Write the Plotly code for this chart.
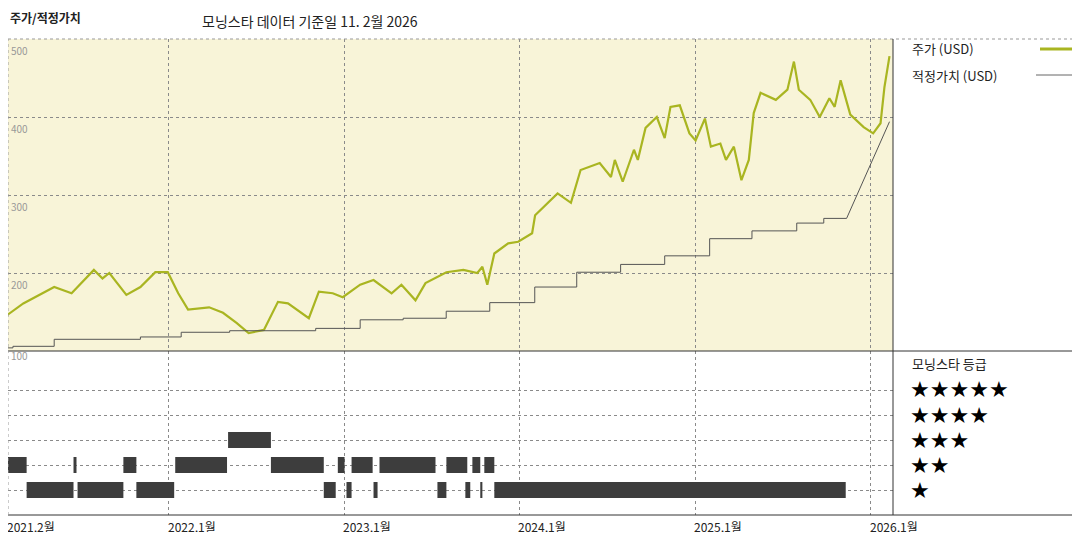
import pandas as pd
import plotly.graph_objects as go

# price (USD), decimal year -> value
price_t = [2021.08, 2021.172, 2021.348, 2021.447, 2021.574, 2021.623, 2021.662, 2021.759, 2021.839,
           2021.924, 2021.995, 2022.055, 2022.111, 2022.231, 2022.310, 2022.387, 2022.456, 2022.543,
           2022.623, 2022.680, 2022.799, 2022.856, 2022.935, 2022.992, 2023.092, 2023.168, 2023.271,
           2023.327, 2023.407, 2023.464, 2023.583, 2023.680, 2023.759, 2023.788, 2023.816, 2023.856,
           2023.935, 2023.992, 2024.072, 2024.089, 2024.217, 2024.293, 2024.348, 2024.457, 2024.521,
           2024.543, 2024.588, 2024.652, 2024.674, 2024.718, 2024.782, 2024.827, 2024.860, 2024.913,
           2024.968, 2025.001, 2025.054, 2025.088, 2025.142, 2025.174, 2025.219, 2025.262, 2025.304,
           2025.332, 2025.371, 2025.458, 2025.524, 2025.561, 2025.589, 2025.654, 2025.708, 2025.763,
           2025.793, 2025.827, 2025.882, 2025.958, 2026.013, 2026.055, 2026.077, 2026.106]
price_v = [146, 161, 182, 174, 204, 193, 200, 172, 182,
           201, 201, 174, 153, 156, 149, 136, 123, 127,
           163, 161, 142, 176, 174, 169, 185, 191, 174,
           185, 165, 187, 201, 204, 200, 208, 185, 225,
           238, 240, 251, 274, 302, 290, 332, 341, 323,
           345, 317, 358, 345, 386, 400, 373, 413, 415,
           379, 370, 398, 362, 366, 345, 362, 319, 345,
           405, 431, 422, 435, 471, 435, 422, 400, 424,
           413, 447, 403, 387, 379, 392, 438, 478]

# fair value steps (start of each level)
fv_t = [2021.083, 2021.113, 2021.348, 2021.839, 2022.072, 2022.348, 2022.838, 2023.092, 2023.337,
        2023.582, 2023.830, 2024.087, 2024.326, 2024.576, 2024.827, 2025.081, 2025.322, 2025.577,
        2025.731, 2025.861]
fv_v = [104, 106, 115, 118, 124, 126, 129, 140, 142,
        151, 162, 182, 201, 211, 222, 244, 254, 264,
        270, 270]
fv_end_t = 2026.106
fv_end_v = 394

# morningstar rating periods: (start, end) decimal years
rating1 = [(2021.191, 2021.458), (2021.481, 2021.742), (2021.816, 2022.032), (2022.884, 2022.952),
           (2023.014, 2023.043), (2023.077, 2023.081), (2023.168, 2023.191), (2023.532, 2023.583),
           (2023.691, 2023.719), (2023.776, 2023.788), (2023.833, 2023.837), (2023.856, 2025.856)]
rating2 = [(2021.072, 2021.191), (2021.458, 2021.475), (2021.742, 2021.816), (2021.839, 2021.843),
           (2022.038, 2022.333), (2022.583, 2022.884), (2022.964, 2023.003), (2023.043, 2023.163),
           (2023.202, 2023.521), (2023.583, 2023.702), (2023.731, 2023.776), (2023.799, 2023.856),
           (2025.254, 2025.258), (2026.102, 2026.106)]
rating3 = [(2022.339, 2022.583)]

xticks = ["2021-02-01", "2022-01-01", "2023-01-01", "2024-01-01", "2025-01-01", "2026-01-01"]
xtick_text = ["2021,2월", "2022,1월", "2023,1월", "2024,1월", "2025,1월", "2026,1월"]
price_ticks = [200, 300, 400, 500]

FONT = "Noto Sans CJK KR"
OLIVE = "#a9b521"

# page has an 8px body margin, so the figure is shrunk and positions are
# given in window pixels
W, H, M = 1064, 524, 8


def px(x):
    return (x - M) / W


def py(y):
    return (H + M - y) / H


def ydate(v):
    y = int(v)
    return pd.Timestamp(y, 1, 1) + pd.Timedelta(days=(v - y) * 365.25)


fig = go.Figure()

fig.add_trace(go.Scatter(x=[ydate(t) for t in price_t], y=price_v, mode="lines",
                         line=dict(color=OLIVE, width=2.2), xaxis="x2", yaxis="y2",
                         showlegend=False))

# fair value as a staircase, then straight ramp at the end
fx, fy = [], []
for i, (t, v) in enumerate(zip(fv_t, fv_v)):
    if i > 0:
        fx.append(ydate(t))
        fy.append(fv_v[i - 1])
    fx.append(ydate(t))
    fy.append(v)
fx.append(ydate(fv_end_t))
fy.append(fv_end_v)
fig.add_trace(go.Scatter(x=fx, y=fy, mode="lines", line=dict(color="#555555", width=1),
                         xaxis="x2", yaxis="y2", showlegend=False))

for level, segs in [(1, rating1), (2, rating2), (3, rating3)]:
    sx, sy = [], []
    for a, b in segs:
        sx += [ydate(a), ydate(b), None]
        sy += [level, level, None]
    fig.add_trace(go.Scatter(x=sx, y=sy, mode="lines", line=dict(color="#3d3d3d", width=16),
                             xaxis="x", yaxis="y", showlegend=False))

x0, x1 = px(5), px(893)
top_lo, top_hi = py(351), py(39)
bot_lo = py(515)
xrange = [pd.Timestamp("2021-02-01"), pd.Timestamp("2026-02-16")]

grid = dict(showgrid=True, gridcolor="#8a8a8a", griddash="dot", gridwidth=1,
            zeroline=False, showticklabels=False, ticks="")
fig.update_layout(
    width=W, height=H, margin=dict(l=0, r=0, t=0, b=0),
    paper_bgcolor="white", plot_bgcolor="rgba(0,0,0,0)",
    font=dict(family=FONT, color="#222"),
    xaxis=dict(domain=[max(x0, 0), x1], range=xrange, anchor="y", tickvals=xticks[1:], **grid),
    xaxis2=dict(domain=[max(x0, 0), x1], range=xrange, anchor="y2", matches="x", tickvals=xticks[1:], **grid),
    yaxis=dict(domain=[bot_lo, top_lo], range=[0, 6.56], tickvals=[1, 2, 3, 4, 5], **grid),
    yaxis2=dict(domain=[top_lo, top_hi], range=[100, 500], tickvals=[200, 300, 400], **grid),
)
x0 = max(x0, 0)

shapes = [
    dict(type="rect", xref="paper", yref="paper", x0=x0, x1=x1, y0=top_lo, y1=top_hi,
         fillcolor="#f8f4d8", line_width=0, layer="below"),
    dict(type="line", xref="paper", yref="paper", x0=x0, x1=1, y0=top_hi, y1=top_hi,
         line=dict(color="#999", width=1, dash="dot")),
    dict(type="line", xref="paper", yref="paper", x0=x0, x1=1, y0=top_lo, y1=top_lo,
         line=dict(color="#333", width=1)),
    dict(type="line", xref="paper", yref="paper", x0=x0, x1=1, y0=bot_lo, y1=bot_lo,
         line=dict(color="#333", width=1)),
    dict(type="line", xref="paper", yref="paper", x0=x1, x1=x1, y0=bot_lo, y1=top_hi,
         line=dict(color="#333", width=1)),
    dict(type="line", xref="paper", yref="paper", x0=x0, x1=x0, y0=bot_lo, y1=top_hi,
         line=dict(color="#999", width=1, dash="dot")),
    dict(type="line", xref="paper", yref="paper", x0=px(1040), x1=px(1072),
         y0=py(49), y1=py(49), line=dict(color=OLIVE, width=3)),
    dict(type="line", xref="paper", yref="paper", x0=px(1036), x1=px(1072),
         y0=py(75), y1=py(75), line=dict(color="#666", width=1)),
]

ann = [
    dict(text="<b>주가/적정가치</b>", x=px(8), y=py(18), font=dict(size=12),
         xanchor="left", yanchor="middle"),
    dict(text="모닝스타 데이터 기준일 11. 2월 2026", x=px(200), y=py(21),
         font=dict(size=14), xanchor="left", yanchor="middle"),
    dict(text="주가 (USD)", x=px(910), y=py(49), font=dict(size=13),
         xanchor="left", yanchor="middle"),
    dict(text="적정가치 (USD)", x=px(910), y=py(75), font=dict(size=13),
         xanchor="left", yanchor="middle"),
    dict(text="모닝스타 등급", x=px(910), y=py(363), font=dict(size=13),
         xanchor="left", yanchor="middle"),
    dict(text="100", xref="x", yref="y", x=ydate(2021.09), y=6.4, font=dict(size=10, color="#999"),
         xanchor="left", yanchor="middle"),
]
for n in range(1, 6):
    ann.append(dict(text="★" * n, x=px(908), y=py(490 - (n - 1) * 25),
                    font=dict(size=22, color="black", family="DejaVu Sans"),
                    xanchor="left", yanchor="middle"))
for v in price_ticks:
    ann.append(dict(text=str(v), xref="x2", yref="y2", x=ydate(2021.09), y=v,
                    font=dict(size=10, color="#999"), xanchor="left", yanchor="top", yshift=-2))
for d, t in zip(xticks, xtick_text):
    ann.append(dict(text=t, xref="x", yref="paper", x=pd.Timestamp(d), y=bot_lo,
                    font=dict(size=12), xanchor="left", yanchor="top", xshift=-3, yshift=-1))
for a in ann:
    a.setdefault("xref", "paper")
    a.setdefault("yref", "paper")
    a["showarrow"] = False

fig.update_layout(shapes=shapes, annotations=ann)
fig.write_html("out.html")
